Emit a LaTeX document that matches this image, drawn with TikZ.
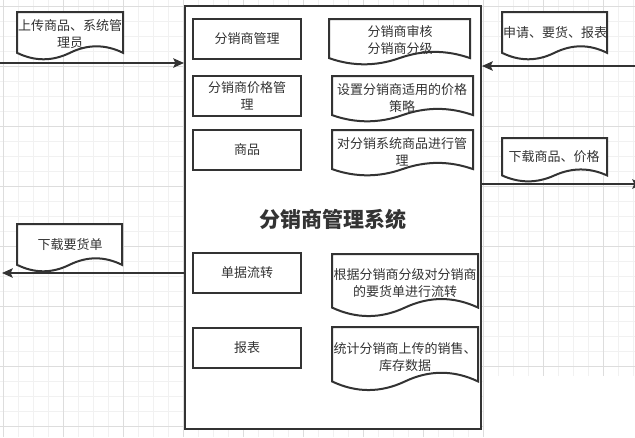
\documentclass[tikz,border=0pt]{standalone}
\usepackage{fontspec}
\setmainfont{Noto Sans CJK SC}
\usetikzlibrary{arrows.meta}
\definecolor{ln}{HTML}{333333}
\definecolor{tx}{HTML}{333333}
\definecolor{gmin}{HTML}{F1F1F1}
\definecolor{gmaj}{HTML}{DDDDDD}
\newcommand\docshape[4]{%
  \draw[shapeline] (#1,#2) -- (#3,#2) -- (#3,{#2+0.85*#4})
    .. controls ({#1+5/6*(#3-#1)},{#2+0.67*#4}) and ({#1+2/3*(#3-#1)},{#2+0.67*#4}) .. ({(#1+#3)/2},{#2+0.85*#4})
    .. controls ({#1+(#3-#1)/3},{#2+1.03*#4}) and ({#1+(#3-#1)/6},{#2+1.03*#4}) .. (#1,{#2+0.85*#4}) -- cycle;}
\begin{document}
\begin{tikzpicture}[x=0.75pt,y=-0.75pt,
  shapeline/.style={draw=ln, line width=1.5pt, fill=white},
  lbox/.style={draw=ln, line width=1.5pt, fill=white, minimum width=81pt, minimum height=30pt, inner sep=0pt, text=tx, font=\fontsize{9.75}{12.75}\selectfont},
  doctext/.style={align=center, inner sep=0pt, text=tx, font=\fontsize{9.75}{12.75}\selectfont},
  flow/.style={draw=ln, line width=1.5pt, -{Stealth[length=8pt,width=7pt,inset=1.5pt]}},
  gminor/.style={draw=gmin, line width=0.75pt},
  gmajor/.style={draw=gmaj, line width=0.75pt}]
\useasboundingbox (0,0) rectangle (635,437);
\clip (0,0) rectangle (635,437);
\fill[white] (0,0) rectangle (635,437);
% grid
\foreach \x in {3,18,...,633} {
  \pgfmathsetmacro\glim{\x>483 ? 376 : 437}
  \draw[gminor] (\x,0) -- (\x,\glim);
}
\foreach \y in {6,21,...,436} {
  \pgfmathsetmacro\glim{\y>376 ? 483 : 635}
  \draw[gminor] (0,\y) -- (\glim,\y);
}
\foreach \x in {3,63,...,633} {
  \pgfmathsetmacro\glim{\x>483 ? 376 : 437}
  \draw[gmajor] (\x,0) -- (\x,\glim);
}
\foreach \y in {6,66,...,436} {
  \pgfmathsetmacro\glim{\y>376 ? 483 : 635}
  \draw[gmajor] (0,\y) -- (\glim,\y);
}
% main system box
\node[draw=ln, line width=1.5pt, fill=white, minimum width=222pt, minimum height=317.25pt, inner sep=0pt] (sys) at (333,217.5) {};
\node[font=\fontsize{15.75}{18}\selectfont\bfseries, text=ln] (title) at (333,219) {分销商管理系统};
% arrows
\coordinate (a1s) at (0,63);
\draw[flow] (a1s) -- (a1s -| sys.west);
\coordinate (a2s) at (636,66);
\draw[flow] (a2s) -- (a2s -| sys.east);
\coordinate (a3e) at (643,184);
\draw[flow] (sys.east |- a3e) -- (a3e);
\coordinate (a4e) at (2,273);
\draw[flow] (sys.west |- a4e) -- (a4e);
% left boxes
\node[lbox] (b1) at (247,39) {分销商管理};
\node[lbox, align=center] (b2) at (247,95.5) {分销商价格管\\理};
\node[lbox] (b3) at (247,150) {商品};
\node[lbox] (b4) at (247,273) {单据流转};
\node[lbox] (b5) at (247,347.5) {报表};
% right document shapes
\docshape{329}{19}{470}{46}
\node[doctext] (d1) at (400,40.5) {分销商审核\\分销商分级};
\docshape{332}{76}{473}{46}
\node[doctext] (d2) at (402,98.5) {设置分销商适用的价格\\策略};
\docshape{332}{130}{473}{46}
\node[doctext] (d3) at (402,151.5) {对分销系统商品进行管\\理};
\docshape{332}{254}{478}{63}
\node[doctext] (d4) at (405,283.5) {根据分销商分级对分销商\\的要货单进行流转};
\docshape{332}{327}{478}{64}
\node[doctext] (d5) at (405,357.5) {统计分销商上传的销售、\\库存数据};
% outside documents
\docshape{17}{12}{123}{48}
\node[doctext] (e1) at (70,34) {上传商品、系统管\\理员};
\docshape{502}{12}{607}{48}
\node[doctext] (e2) at (555,33) {申请、要货、报表};
\docshape{502}{138}{607}{44}
\node[doctext] (e3) at (554,157) {下载商品、价格};
\docshape{17}{224}{122}{48}
\node[doctext] (e4) at (70,245) {下载要货单};
\end{tikzpicture}
\end{document}
